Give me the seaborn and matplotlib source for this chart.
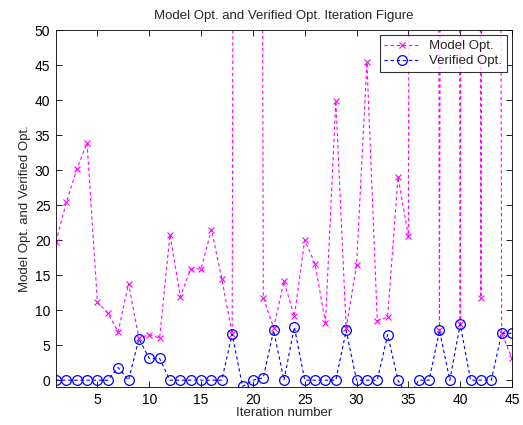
import numpy as np
import pandas as pd
import matplotlib
matplotlib.use("Agg")
import matplotlib.pyplot as plt
import seaborn as sns

# Iteration index and the two series
iterations = list(range(1, 46))
model_opt = [19.8, 25.4, 30.1, 33.9, 11.1, 9.6, 6.9, 13.8, 6.0, 6.5,
             6.0, 20.8, 11.9, 15.9, 15.9, 21.5, 14.5, 6.6, 700.0, 700.0,
             11.8, 7.5, 14.1, 9.1, 20.0, 16.6, 8.2, 39.9, 7.4, 16.4,
             45.4, 8.5, 9.0, 29.0, 20.6, 700.0, 700.0, 7.1, 700.0, 8.0,
             700.0, 11.8, 700.0, 6.7, 3.1]
verified_opt = [0, 0, 0, 0, 0, 0, 1.8, 0, 5.9, 3.1,
                3.1, 0, 0, 0, 0, 0, 0, 6.6, -0.9, 0,
                0.35, 7.1, 0, 7.6, 0, 0, 0, 0, 7.1, 0,
                0, 0, 6.5, 0, -2.5, 0, 0, 7.1, 0, 8.0,
                0, 0, 0, 6.7, 6.7]

df = pd.DataFrame({"iter": iterations, "model": model_opt, "verified": verified_opt})

sns.set_style("ticks")
plt.rcParams["font.family"] = ["Liberation Sans", "DejaVu Sans"]
plt.rcParams["font.size"] = 9.5

fig = plt.figure(figsize=(5.23, 4.25), dpi=100)
ax = fig.add_axes([0.107, 0.089, 0.872, 0.840])

sns.lineplot(data=df, x="iter", y="model", ax=ax, color="#ff00ff",
             linestyle=(0, (3, 2.5)), linewidth=0.8, marker="x",
             markersize=4.5, markeredgewidth=0.8, markeredgecolor="#ff00ff",
             label="Model Opt.")
sns.lineplot(data=df, x="iter", y="verified", ax=ax, color="#0000ff",
             linestyle=(0, (3, 2.5)), linewidth=0.8, marker="o",
             markersize=7, markerfacecolor="none", markeredgewidth=0.9,
             markeredgecolor="#0000ff", label="Verified Opt.")

ax.set_xlim(1, 45)
ax.set_ylim(-1, 50)
ax.set_xticks(range(5, 46, 5))
ax.set_yticks(range(0, 51, 5))
ax.tick_params(direction="in", top=True, right=True, length=4, width=0.6,
               labelsize=10, colors="#000000", pad=4)
for sp in ax.spines.values():
    sp.set_linewidth(0.6)
    sp.set_color("#000000")

ax.set_title("Model Opt. and Verified Opt. Iteration Figure", fontsize=9.5, pad=8)
ax.set_xlabel("Iteration number", fontsize=9.5, labelpad=0)
ax.set_ylabel("Model Opt. and Verified Opt.", fontsize=9.5, labelpad=3)

leg = ax.legend(loc="upper right", fontsize=9.5, fancybox=False, frameon=True,
                edgecolor="black", borderaxespad=0.4, handlelength=2.6,
                borderpad=0.35, labelspacing=0.2)
leg.get_frame().set_linewidth(0.8)

fig.savefig("out.png", dpi=100)
